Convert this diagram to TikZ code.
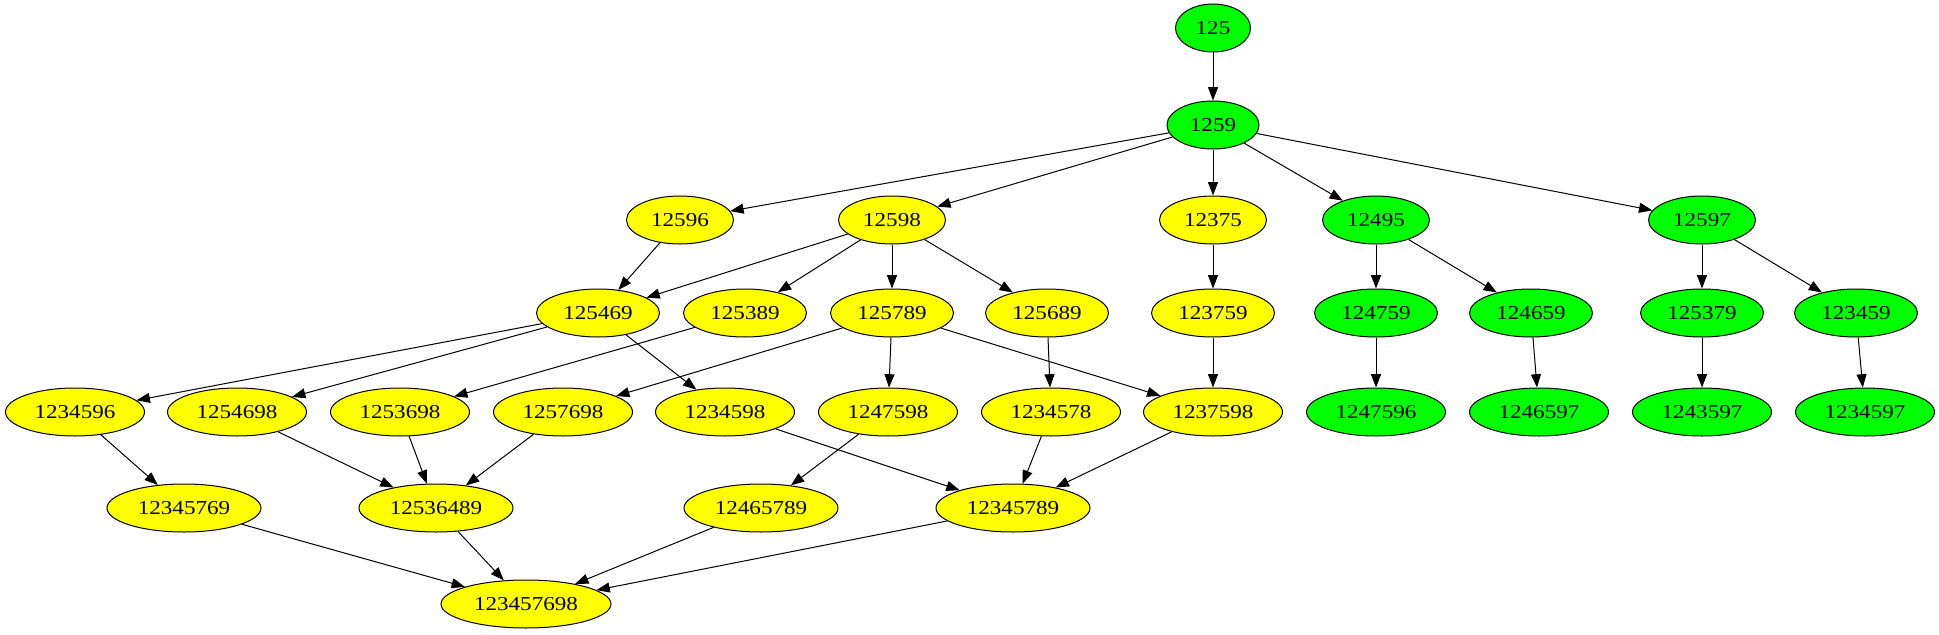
\documentclass[tikz,border=0pt]{standalone}
\usepackage{fontspec}
\setmainfont{Liberation Serif}[FakeStretch=1.17]
\usetikzlibrary{shapes.geometric,arrows.meta}
\definecolor{gr}{RGB}{0,255,0}
\definecolor{yl}{RGB}{255,255,0}
\begin{document}
\begin{tikzpicture}[x=0.75pt,y=-0.75pt,
  nd/.style={ellipse,draw=black,line width=0.75pt,minimum height=36pt,inner sep=0pt,font=\fontsize{14.8}{17}\selectfont},
  gn/.style={nd,fill=gr},
  yn/.style={nd,fill=yl},
  wd/.style={minimum width=#1*0.75pt},
  arr/.style={-{Triangle[length=10pt,width=7.5pt]},line width=0.75pt}]
\useasboundingbox (0,0) rectangle (1939,635);
% rank 0
\node[gn,wd=75] (n125) at (1213,28) {125};
% rank 1
\node[gn,wd=92] (n1259) at (1213,125) {1259};
% rank 2
\node[yn,wd=107] (n12596) at (680,220) {12596};
\node[yn,wd=107] (n12598) at (892,220) {12598};
\node[yn,wd=107] (n12375) at (1213,220) {12375};
\node[gn,wd=107] (n12495) at (1376,220) {12495};
\node[gn,wd=107] (n12597) at (1702,220) {12597};
% rank 3
\node[yn,wd=123] (n125469) at (598,313) {125469};
\node[yn,wd=123] (n125389) at (745,313) {125389};
\node[yn,wd=123] (n125789) at (892,313) {125789};
\node[yn,wd=123] (n125689) at (1047,313) {125689};
\node[yn,wd=123] (n123759) at (1213,313) {123759};
\node[gn,wd=123] (n124759) at (1376,313) {124759};
\node[gn,wd=123] (n124659) at (1531,313) {124659};
\node[gn,wd=123] (n125379) at (1702,313) {125379};
\node[gn,wd=123] (n123459) at (1856,313) {123459};
% rank 4
\node[yn,wd=139] (n1234596) at (75,412) {1234596};
\node[yn,wd=139] (n1254698) at (237,412) {1254698};
\node[yn,wd=139] (n1253698) at (400,412) {1253698};
\node[yn,wd=139] (n1257698) at (563,412) {1257698};
\node[yn,wd=139] (n1234598) at (725,412) {1234598};
\node[yn,wd=139] (n1247598) at (888,412) {1247598};
\node[yn,wd=139] (n1234578) at (1051,412) {1234578};
\node[yn,wd=139] (n1237598) at (1213,412) {1237598};
\node[gn,wd=139] (n1247596) at (1376,412) {1247596};
\node[gn,wd=139] (n1246597) at (1539,412) {1246597};
\node[gn,wd=139] (n1243597) at (1702,412) {1243597};
\node[gn,wd=139] (n1234597) at (1865,412) {1234597};
% rank 5
\node[yn,wd=154] (n12345769) at (184,508) {12345769};
\node[yn,wd=154] (n12536489) at (436,508) {12536489};
\node[yn,wd=154] (n12465789) at (761,508) {12465789};
\node[yn,wd=154] (n12345789) at (1013,508) {12345789};
% rank 6
\node[yn,wd=170] (n123457698) at (526,604) {123457698};
% edges
\draw[arr] (n125) -- (n1259);
\draw[arr] (n1259) -- (n12596);
\draw[arr] (n1259) -- (n12598);
\draw[arr] (n1259) -- (n12375);
\draw[arr] (n1259) -- (n12495);
\draw[arr] (n1259) -- (n12597);
\draw[arr] (n12596) -- (n125469);
\draw[arr] (n12598) -- (n125469);
\draw[arr] (n12598) -- (n125389);
\draw[arr] (n12598) -- (n125789);
\draw[arr] (n12598) -- (n125689);
\draw[arr] (n12375) -- (n123759);
\draw[arr] (n12495) -- (n124759);
\draw[arr] (n12495) -- (n124659);
\draw[arr] (n12597) -- (n125379);
\draw[arr] (n12597) -- (n123459);
\draw[arr] (n125469) -- (n1234596);
\draw[arr] (n125469) -- (n1254698);
\draw[arr] (n125469) -- (n1234598);
\draw[arr] (n125389) -- (n1253698);
\draw[arr] (n125789) -- (n1257698);
\draw[arr] (n125789) -- (n1247598);
\draw[arr] (n125789) -- (n1237598);
\draw[arr] (n125689) -- (n1234578);
\draw[arr] (n123759) -- (n1237598);
\draw[arr] (n124759) -- (n1247596);
\draw[arr] (n124659) -- (n1246597);
\draw[arr] (n125379) -- (n1243597);
\draw[arr] (n123459) -- (n1234597);
\draw[arr] (n1234596) -- (n12345769);
\draw[arr] (n1254698) -- (n12536489);
\draw[arr] (n1253698) -- (n12536489);
\draw[arr] (n1257698) -- (n12536489);
\draw[arr] (n1234598) -- (n12345789);
\draw[arr] (n1247598) -- (n12465789);
\draw[arr] (n1234578) -- (n12345789);
\draw[arr] (n1237598) -- (n12345789);
\draw[arr] (n12345769) -- (n123457698);
\draw[arr] (n12536489) -- (n123457698);
\draw[arr] (n12465789) -- (n123457698);
\draw[arr] (n12345789) -- (n123457698);
\end{tikzpicture}
\end{document}
